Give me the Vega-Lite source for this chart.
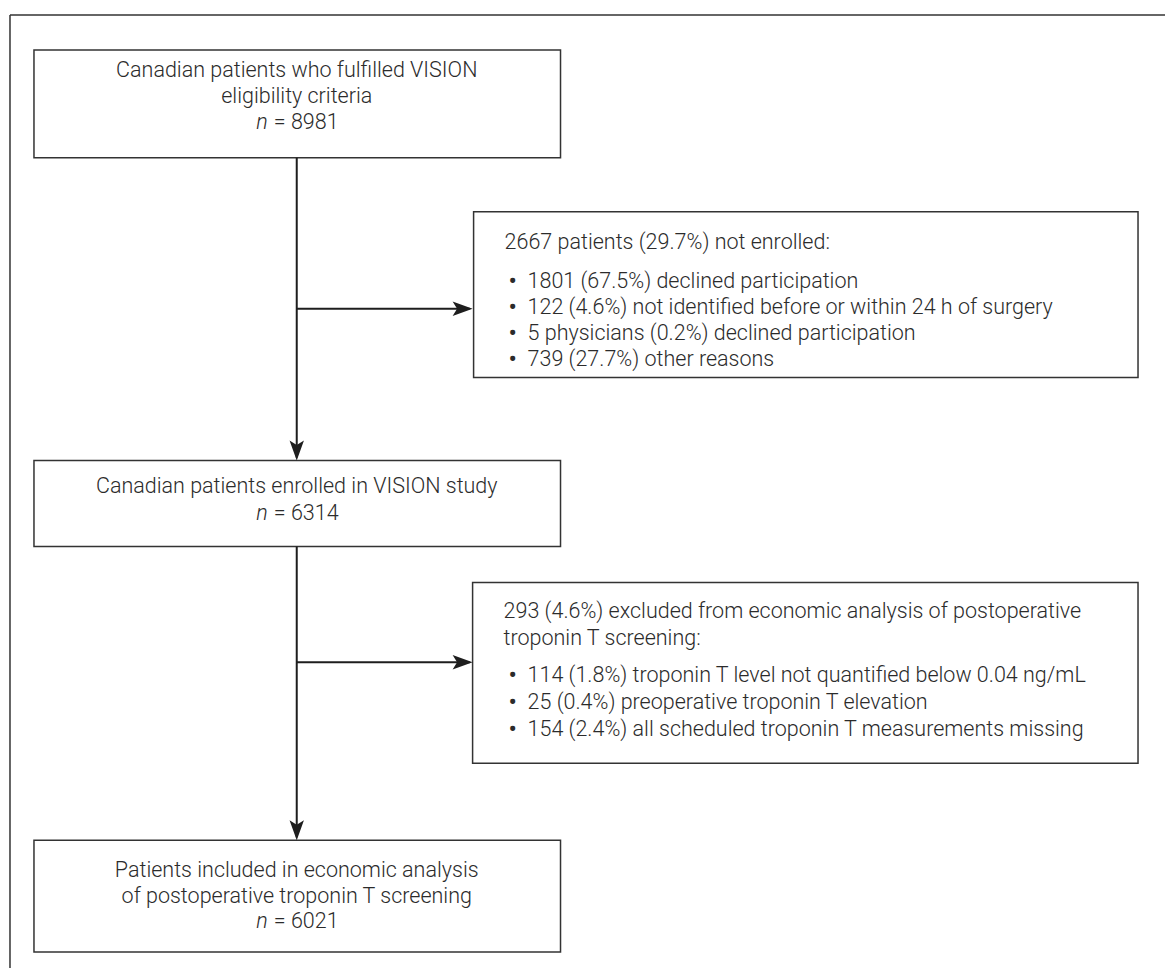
{
  "$schema": "https://vega.github.io/schema/vega-lite/v6.json",
  "width": 1166,
  "height": 969,
  "padding": 0,
  "autosize": {"type": "fit", "contains": "padding"},
  "background": "white",
  "config": {"view": {"stroke": null}, "text": {"font": "Roboto", "fontWeight": 300, "fontSize": 21.5, "color": "#2b2b2b"}},
  "datasets": {
    "boxes": [
      {"id": "eligible", "x1": 34, "x2": 561, "y1": 50, "y2": 158},
      {"id": "notenrolled", "x1": 474, "x2": 1139, "y1": 212, "y2": 378},
      {"id": "enrolled", "x1": 34, "x2": 561, "y1": 461, "y2": 547},
      {"id": "excluded", "x1": 473, "x2": 1139, "y1": 583, "y2": 764},
      {"id": "included", "x1": 34, "x2": 561, "y1": 841, "y2": 953}
    ],
    "frame": [
      {"x1": 10, "y1": 15, "x2": 1166, "y2": 15},
      {"x1": 10, "y1": 15, "x2": 10, "y2": 969}
    ],
    "links": [
      {"x1": 297, "y1": 158, "x2": 297, "y2": 458},
      {"x1": 297, "y1": 309, "x2": 470, "y2": 309},
      {"x1": 297, "y1": 547, "x2": 297, "y2": 838},
      {"x1": 297, "y1": 663, "x2": 470, "y2": 663}
    ],
    "arrows": [
      {"x": 297, "y": 451, "dir": "down"},
      {"x": 297, "y": 831, "dir": "down"},
      {"x": 463, "y": 309, "dir": "right"},
      {"x": 463, "y": 663, "dir": "right"}
    ],
    "labels": [
      {"x": 297, "y": 71, "kind": "center", "text": "Canadian patients who fulfilled VISION"},
      {"x": 297, "y": 97, "kind": "center", "text": "eligibility criteria"},
      {"x": 268, "y": 123, "kind": "nvar", "text": "n"},
      {"x": 274, "y": 123, "kind": "nval", "text": "= 8981"},
      {"x": 505, "y": 243, "kind": "left", "text": "2667 patients (29.7%) not enrolled:"},
      {"x": 513, "y": 282, "kind": "bullet", "text": "•"},
      {"x": 528, "y": 282, "kind": "left", "text": "1801 (67.5%) declined participation"},
      {"x": 513, "y": 308, "kind": "bullet", "text": "•"},
      {"x": 528, "y": 308, "kind": "left", "text": "122 (4.6%) not identified before or within 24 h of surgery"},
      {"x": 513, "y": 334, "kind": "bullet", "text": "•"},
      {"x": 528, "y": 334, "kind": "left", "text": "5 physicians (0.2%) declined participation"},
      {"x": 513, "y": 360, "kind": "bullet", "text": "•"},
      {"x": 528, "y": 360, "kind": "left", "text": "739 (27.7%) other reasons"},
      {"x": 297, "y": 488, "kind": "center", "text": "Canadian patients enrolled in VISION study"},
      {"x": 268, "y": 515, "kind": "nvar", "text": "n"},
      {"x": 274, "y": 515, "kind": "nval", "text": "= 6314"},
      {"x": 504, "y": 613, "kind": "left", "text": "293 (4.6%) excluded from economic analysis of postoperative"},
      {"x": 504, "y": 640, "kind": "left", "text": "troponin T screening:"},
      {"x": 513, "y": 677, "kind": "bullet", "text": "•"},
      {"x": 528, "y": 677, "kind": "left", "text": "114 (1.8%) troponin T level not quantified below 0.04 ng/mL"},
      {"x": 513, "y": 704, "kind": "bullet", "text": "•"},
      {"x": 528, "y": 704, "kind": "left", "text": "25 (0.4%) preoperative troponin T elevation"},
      {"x": 513, "y": 731, "kind": "bullet", "text": "•"},
      {"x": 528, "y": 731, "kind": "left", "text": "154 (2.4%) all scheduled troponin T measurements missing"},
      {"x": 297, "y": 872, "kind": "center", "text": "Patients included in economic analysis"},
      {"x": 297, "y": 898, "kind": "center", "text": "of postoperative troponin T screening"},
      {"x": 268, "y": 923, "kind": "nvar", "text": "n"},
      {"x": 274, "y": 923, "kind": "nval", "text": "= 6021"}
    ]
  },
  "layer": [
    {
      "data": {"name": "frame"},
      "mark": {"type": "rule", "stroke": "#333333", "strokeWidth": 1.5},
      "encoding": {
        "x": {"field": "x1", "type": "quantitative", "scale": {"domain": [0, 1166], "nice": false, "zero": false}, "axis": null},
        "x2": {"field": "x2"},
        "y": {"field": "y1", "type": "quantitative", "scale": {"domain": [0, 969], "nice": false, "zero": false, "reverse": true}, "axis": null},
        "y2": {"field": "y2"}
      }
    },
    {
      "data": {"name": "boxes"},
      "mark": {"type": "rect", "fill": "white", "stroke": "#333333", "strokeWidth": 1.5},
      "encoding": {
        "x": {"field": "x1", "type": "quantitative", "scale": {"domain": [0, 1166], "nice": false, "zero": false}, "axis": null},
        "x2": {"field": "x2"},
        "y": {"field": "y1", "type": "quantitative", "scale": {"domain": [0, 969], "nice": false, "zero": false, "reverse": true}, "axis": null},
        "y2": {"field": "y2"}
      }
    },
    {
      "data": {"name": "links"},
      "mark": {"type": "rule", "stroke": "#1e1e1e", "strokeWidth": 2},
      "encoding": {
        "x": {"field": "x1", "type": "quantitative", "scale": {"domain": [0, 1166], "nice": false, "zero": false}, "axis": null},
        "x2": {"field": "x2"},
        "y": {"field": "y1", "type": "quantitative", "scale": {"domain": [0, 969], "nice": false, "zero": false, "reverse": true}, "axis": null},
        "y2": {"field": "y2"}
      }
    },
    {
      "data": {"name": "arrows"},
      "transform": [{"filter": "datum.dir === 'down'"}],
      "mark": {"type": "point", "shape": "M0,1 L-0.72,-1 L0,-0.55 L0.72,-1 Z", "size": 400, "filled": true, "fill": "#1e1e1e", "opacity": 1, "strokeWidth": 0},
      "encoding": {
        "x": {"field": "x", "type": "quantitative", "scale": {"domain": [0, 1166], "nice": false, "zero": false}, "axis": null},
        "y": {"field": "y", "type": "quantitative", "scale": {"domain": [0, 969], "nice": false, "zero": false, "reverse": true}, "axis": null}
      }
    },
    {
      "data": {"name": "arrows"},
      "transform": [{"filter": "datum.dir === 'right'"}],
      "mark": {"type": "point", "shape": "M1,0 L-1,-0.72 L-0.55,0 L-1,0.72 Z", "size": 400, "filled": true, "fill": "#1e1e1e", "opacity": 1, "strokeWidth": 0},
      "encoding": {
        "x": {"field": "x", "type": "quantitative", "scale": {"domain": [0, 1166], "nice": false, "zero": false}, "axis": null},
        "y": {"field": "y", "type": "quantitative", "scale": {"domain": [0, 969], "nice": false, "zero": false, "reverse": true}, "axis": null}
      }
    },
    {
      "data": {"name": "labels"},
      "transform": [{"filter": "datum.kind === 'center'"}],
      "mark": {"type": "text", "align": "center", "baseline": "middle"},
      "encoding": {
        "x": {"field": "x", "type": "quantitative", "scale": {"domain": [0, 1166], "nice": false, "zero": false}, "axis": null},
        "y": {"field": "y", "type": "quantitative", "scale": {"domain": [0, 969], "nice": false, "zero": false, "reverse": true}, "axis": null},
        "text": {"field": "text"}
      }
    },
    {
      "data": {"name": "labels"},
      "transform": [{"filter": "datum.kind === 'left' || datum.kind === 'nval'"}],
      "mark": {"type": "text", "align": "left", "baseline": "middle"},
      "encoding": {
        "x": {"field": "x", "type": "quantitative", "scale": {"domain": [0, 1166], "nice": false, "zero": false}, "axis": null},
        "y": {"field": "y", "type": "quantitative", "scale": {"domain": [0, 969], "nice": false, "zero": false, "reverse": true}, "axis": null},
        "text": {"field": "text"}
      }
    },
    {
      "data": {"name": "labels"},
      "transform": [{"filter": "datum.kind === 'nvar'"}],
      "mark": {"type": "text", "align": "right", "baseline": "middle", "fontStyle": "italic"},
      "encoding": {
        "x": {"field": "x", "type": "quantitative", "scale": {"domain": [0, 1166], "nice": false, "zero": false}, "axis": null},
        "y": {"field": "y", "type": "quantitative", "scale": {"domain": [0, 969], "nice": false, "zero": false, "reverse": true}, "axis": null},
        "text": {"field": "text"}
      }
    },
    {
      "data": {"name": "labels"},
      "transform": [{"filter": "datum.kind === 'bullet'"}],
      "mark": {"type": "text", "align": "center", "baseline": "middle", "fontWeight": 700},
      "encoding": {
        "x": {"field": "x", "type": "quantitative", "scale": {"domain": [0, 1166], "nice": false, "zero": false}, "axis": null},
        "y": {"field": "y", "type": "quantitative", "scale": {"domain": [0, 969], "nice": false, "zero": false, "reverse": true}, "axis": null},
        "text": {"field": "text"}
      }
    }
  ]
}
